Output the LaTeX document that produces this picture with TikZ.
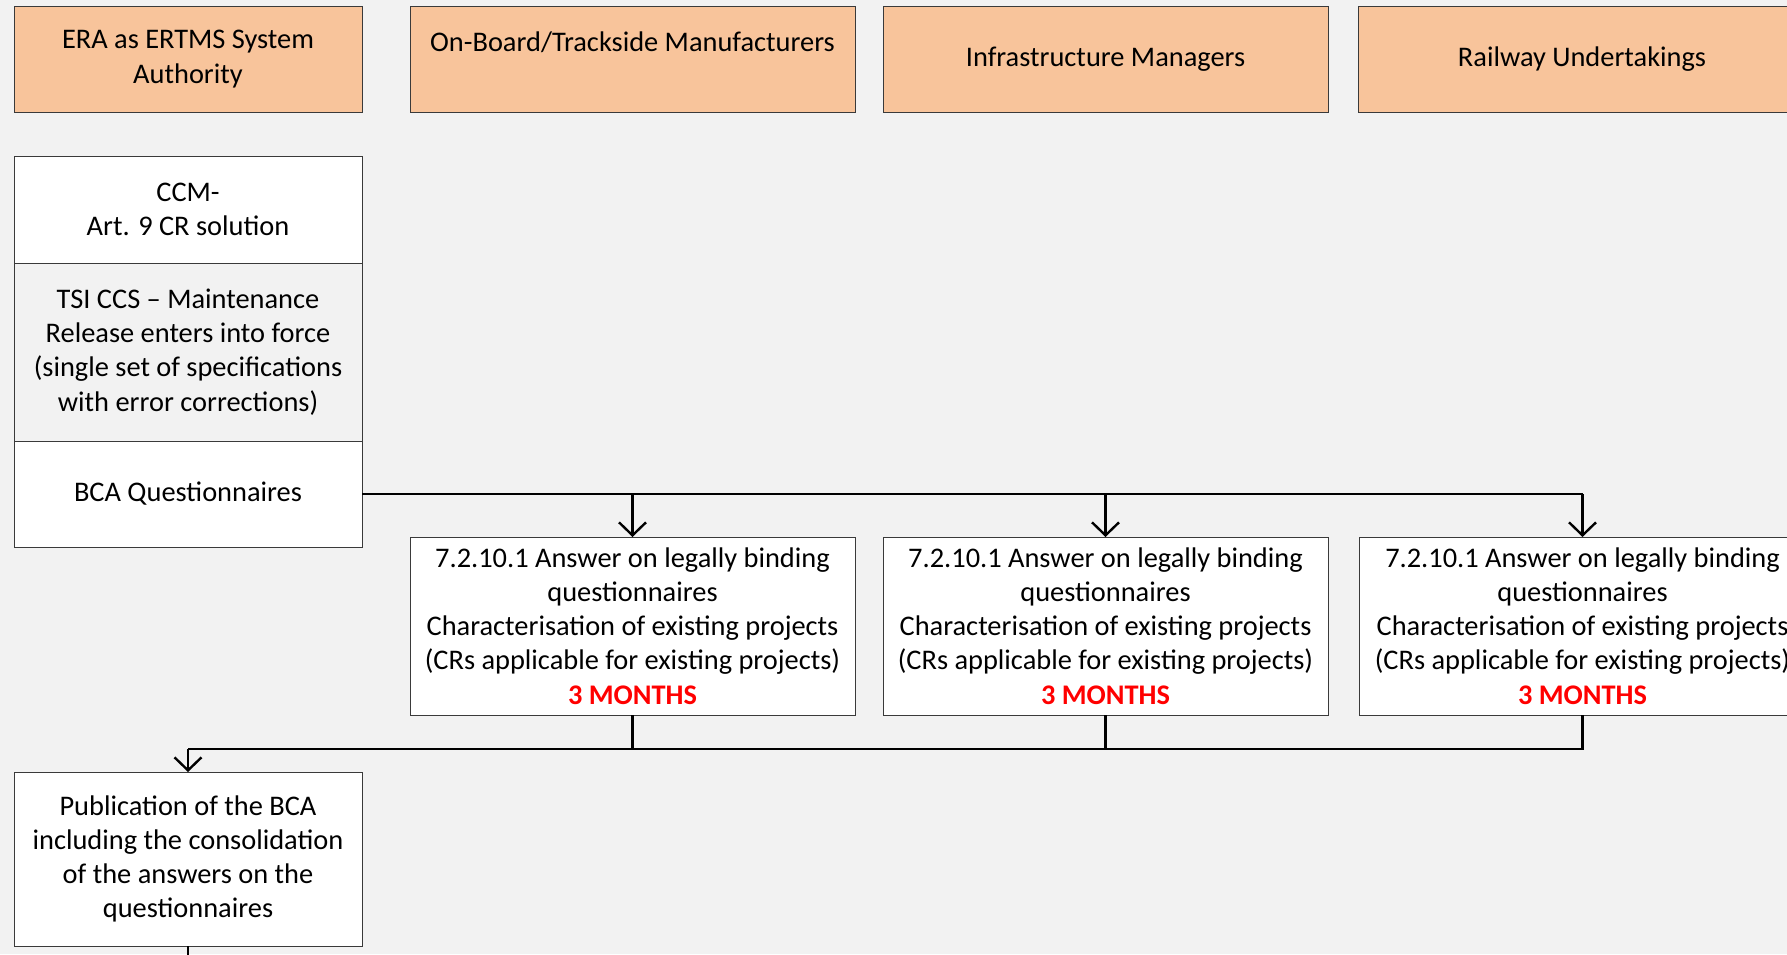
\documentclass[tikz,border=0pt]{standalone}
\usepackage{fontspec}
\setmainfont{Carlito}
\usetikzlibrary{arrows.meta}
\definecolor{bgcol}{HTML}{F2F2F2}
\definecolor{rolefill}{HTML}{F8C49B}
\definecolor{edgecol}{HTML}{3A3A3A}
\definecolor{alert}{HTML}{FF0000}
\begin{document}
\begin{tikzpicture}[x=1pt,y=-1pt,
  every node/.style={font=\fontsize{28.4}{34.2}\selectfont, align=center, inner sep=0pt, outer sep=0pt},
  box/.style={draw=edgecol, line width=1pt, rectangle},
  role/.style={box, fill=rolefill, minimum height=106pt},
  plain/.style={box, fill=white},
  flow/.style={draw=black, line width=2.6pt},
  flowarrow/.style={flow, -{Straight Barb[length=13pt,width=27pt,line width=2.4pt]}},
]
\fill[bgcol] (0,0) rectangle (1787,954);
\useasboundingbox (0,0) rectangle (1787,954);

% header row of stakeholders
\node[role, minimum width=348pt] (era) at (188,59) {ERA as ERTMS System\\Authority};
\node[role, minimum width=445pt] (mfr) at (632.5,59) {On-Board/Trackside Manufacturers\\\mbox{}};
\node[role, minimum width=445pt] (im) at (1105.5,59) {Infrastructure Managers};
\node[role, minimum width=448pt] (ru) at (1582,59) {Railway Undertakings};

% ERA column
\node[plain, minimum width=348pt, minimum height=107pt] (ccm) at (188,209.5) {CCM-\\Art. 9 CR solution};
\node[box, fill=bgcol, minimum width=348pt, minimum height=178pt] (tsi) at (188,352) {TSI CCS -- Maintenance\\Release enters into force\\(single set of specifications\\with error corrections)};
\node[plain, minimum width=348pt, minimum height=106pt] (bca) at (188,494) {BCA Questionnaires};

% answers from the sector
\node[plain, minimum width=445pt, minimum height=178pt] (amfr) at (632.5,626) {7.2.10.1 Answer on legally binding\\questionnaires\\Characterisation of existing projects\\(CRs applicable for existing projects)\\\textcolor{alert}{\bfseries 3 MONTHS}};
\node[plain, minimum width=445pt, minimum height=178pt] (aim) at (1105.5,626) {7.2.10.1 Answer on legally binding\\questionnaires\\Characterisation of existing projects\\(CRs applicable for existing projects)\\\textcolor{alert}{\bfseries 3 MONTHS}};
\node[plain, minimum width=447pt, minimum height=178pt] (aru) at (1582.5,626) {7.2.10.1 Answer on legally binding\\questionnaires\\Characterisation of existing projects\\(CRs applicable for existing projects)\\\textcolor{alert}{\bfseries 3 MONTHS}};

% consolidation
\node[plain, minimum width=348pt, minimum height=174pt] (pub) at (188,859) {Publication of the BCA\\including the consolidation\\of the answers on the\\questionnaires};

\coordinate (bus) at (188,749);
\coordinate (next) at (188,960);

% questionnaires distributed to the sector
\draw[flow] (bca.east) -- (aru.north |- bca.east);
\draw[flowarrow] (amfr.north |- bca.east) -- (amfr.north);
\draw[flowarrow] (aim.north |- bca.east) -- (aim.north);
\draw[flowarrow] (aru.north |- bca.east) -- (aru.north);

% answers collected back
\draw[flow] (amfr.south) -- (amfr.south |- bus);
\draw[flow] (aim.south) -- (aim.south |- bus);
\draw[flow] (aru.south) -- (aru.south |- bus) -- (bus);
\draw[flowarrow] (bus) -- (pub.north);
\draw[flow] (pub.south) -- (next);
\end{tikzpicture}
\end{document}
